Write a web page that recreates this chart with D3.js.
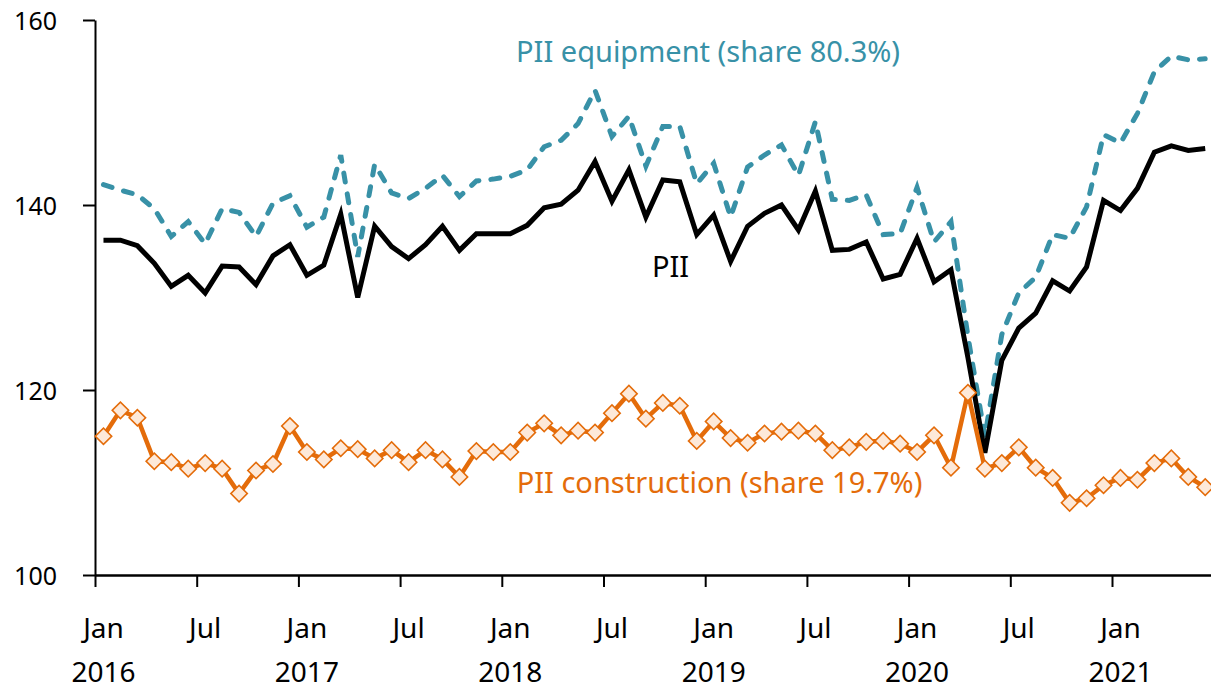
<!DOCTYPE html>
<html>
<head>
<meta charset="utf-8">
<script src="https://cdn.jsdelivr.net/npm/d3@7"></script>
<style>
  body { margin: 0; background: #fff; }
  svg { display: block; font-family: "Noto Sans", sans-serif; }
</style>
</head>
<body>
<svg width="1211" height="689"></svg>
<script>
// monthly index values, Jan 2016 .. Jun 2021
var startYear = 2016;
var pii = [
  136.2, 136.2, 135.6, 133.7, 131.2, 132.4, 130.5, 133.4, 133.3, 131.4, 134.5, 135.7,
  132.4, 133.5, 139.0, 130.0, 137.7, 135.5, 134.2, 135.7, 137.7, 135.1, 136.9, 136.9,
  136.9, 137.8, 139.7, 140.1, 141.6, 144.7, 140.4, 143.8, 138.7, 142.7, 142.5, 136.8,
  138.9, 133.9, 137.7, 139.1, 140.0, 137.3, 141.5, 135.1, 135.2, 136.0, 132.0, 132.5,
  136.4, 131.7, 133.0, 123.5, 113.2, 123.2, 126.7, 128.3, 131.8, 130.7, 133.3, 140.5,
  139.4, 141.8, 145.7, 146.4, 145.9, 146.1
];
var piiEquipment = [
  142.2, 141.6, 141.1, 139.6, 136.6, 138.2, 135.8, 139.6, 139.2, 136.6, 140.2, 141.0,
  137.6, 138.7, 145.4, 134.4, 144.4, 141.3, 140.7, 141.8, 143.2, 140.9, 142.6, 142.8,
  143.1, 143.8, 146.3, 147.0, 148.8, 152.4, 147.4, 149.6, 144.2, 148.5, 148.5, 142.3,
  144.5, 138.7, 144.1, 145.4, 146.5, 143.2, 149.0, 140.6, 140.5, 141.1, 136.8, 136.9,
  141.9, 136.0, 138.2, 125.8, 115.0, 126.0, 130.5, 132.2, 136.8, 136.4, 139.8, 147.6,
  146.7, 149.9, 154.4, 156.1, 155.7, 155.8
];
var piiConstruction = [
  115.0, 117.8, 117.0, 112.3, 112.2, 111.5, 112.1, 111.5, 108.8, 111.3, 112.0, 116.1,
  113.3, 112.5, 113.7, 113.6, 112.6, 113.5, 112.2, 113.5, 112.5, 110.6, 113.4, 113.3,
  113.3, 115.4, 116.4, 115.1, 115.6, 115.4, 117.5, 119.6, 116.9, 118.6, 118.3, 114.5,
  116.6, 114.8, 114.3, 115.3, 115.5, 115.6, 115.3, 113.5, 113.8, 114.4, 114.5, 114.2,
  113.3, 115.1, 111.6, 119.7, 111.5, 112.1, 113.8, 111.6, 110.5, 107.8, 108.3, 109.7,
  110.5, 110.3, 112.1, 112.6, 110.6, 109.5
];
var yTicks = [100, 120, 140, 160];
var monthTicks = [0, 6, 12, 18, 24, 30, 36, 42, 48, 54, 60];
var monthNames = ["Jan", "Jul"];

var svg = d3.select("svg");

var x = d3.scaleLinear().domain([0, 66]).range([95, 1213.7]);
var y = d3.scaleLinear().domain([100, 160]).range([575, 20]);

var teal = "#3891A7", orange = "#E46C0A";

// y axis
svg.append("g")
  .attr("transform", "translate(95,0)")
  .call(d3.axisLeft(y).tickValues(yTicks).tickSize(12).tickPadding(26).tickSizeOuter(0))
  .call(function(g) {
    g.select(".domain").attr("stroke", "#000").attr("stroke-width", 2);
    g.selectAll(".tick line").attr("stroke", "#000").attr("stroke-width", 2);
    g.selectAll(".tick text").attr("font-size", 25).attr("fill", "#000")
      .attr("font-family", "Noto Sans").attr("dy", "0.38em");
  });

// x axis
svg.append("g")
  .attr("transform", "translate(0,575)")
  .call(d3.axisBottom(x).tickValues(monthTicks).tickSize(12).tickFormat("").tickSizeOuter(0))
  .call(function(g) {
    g.select(".domain").attr("stroke", "#000").attr("stroke-width", 2.5);
    g.selectAll(".tick line").attr("stroke", "#000").attr("stroke-width", 2);
  });

svg.append("g").selectAll("text")
  .data(monthTicks)
  .enter().append("text")
  .attr("x", function(d) { return x(d + 0.5); })
  .attr("y", 638)
  .attr("text-anchor", "middle")
  .attr("font-size", 28)
  .text(function(d) { return monthNames[(d / 6) % 2]; });

svg.append("g").selectAll("text")
  .data(monthTicks.filter(function(d) { return d % 12 == 0; }))
  .enter().append("text")
  .attr("x", function(d) { return x(d + 0.5); })
  .attr("y", 682)
  .attr("text-anchor", "middle")
  .attr("font-size", 28)
  .text(function(d) { return startYear + d / 12; });

var line = d3.line()
  .x(function(d, i) { return x(i + 0.5); })
  .y(function(d) { return y(d); });

svg.append("path")
  .datum(piiEquipment)
  .attr("d", line)
  .attr("fill", "none")
  .attr("stroke", teal)
  .attr("stroke-width", 5)
  .attr("stroke-dasharray", "9,12")
  .attr("stroke-linecap", "round");

svg.append("path")
  .datum(pii)
  .attr("d", line)
  .attr("fill", "none")
  .attr("stroke", "#000")
  .attr("stroke-width", 5)
  .attr("stroke-linejoin", "miter");

svg.append("path")
  .datum(piiConstruction)
  .attr("d", line)
  .attr("fill", "none")
  .attr("stroke", orange)
  .attr("stroke-width", 4.5);

svg.append("g").selectAll("path")
  .data(piiConstruction)
  .enter().append("path")
  .attr("d", d3.symbol().type(d3.symbolSquare).size(135))
  .attr("transform", function(d, i) {
    return "translate(" + x(i + 0.5) + "," + y(d) + ") rotate(45)";
  })
  .attr("fill", "#FDE9D9")
  .attr("stroke", orange)
  .attr("stroke-width", 1.6);

// series labels
svg.append("text")
  .attr("x", x(24.84)).attr("y", y(155.46))
  .attr("font-size", 29).attr("fill", teal)
  .text("PII equipment (share 80.3%)");

svg.append("text")
  .attr("x", x(32.86)).attr("y", y(132.2))
  .attr("font-size", 29).attr("fill", "#000")
  .text("PII");

svg.append("text")
  .attr("x", x(24.88)).attr("y", y(108.86))
  .attr("font-size", 29).attr("fill", orange)
  .text("PII construction (share 19.7%)");
</script>
</body>
</html>
